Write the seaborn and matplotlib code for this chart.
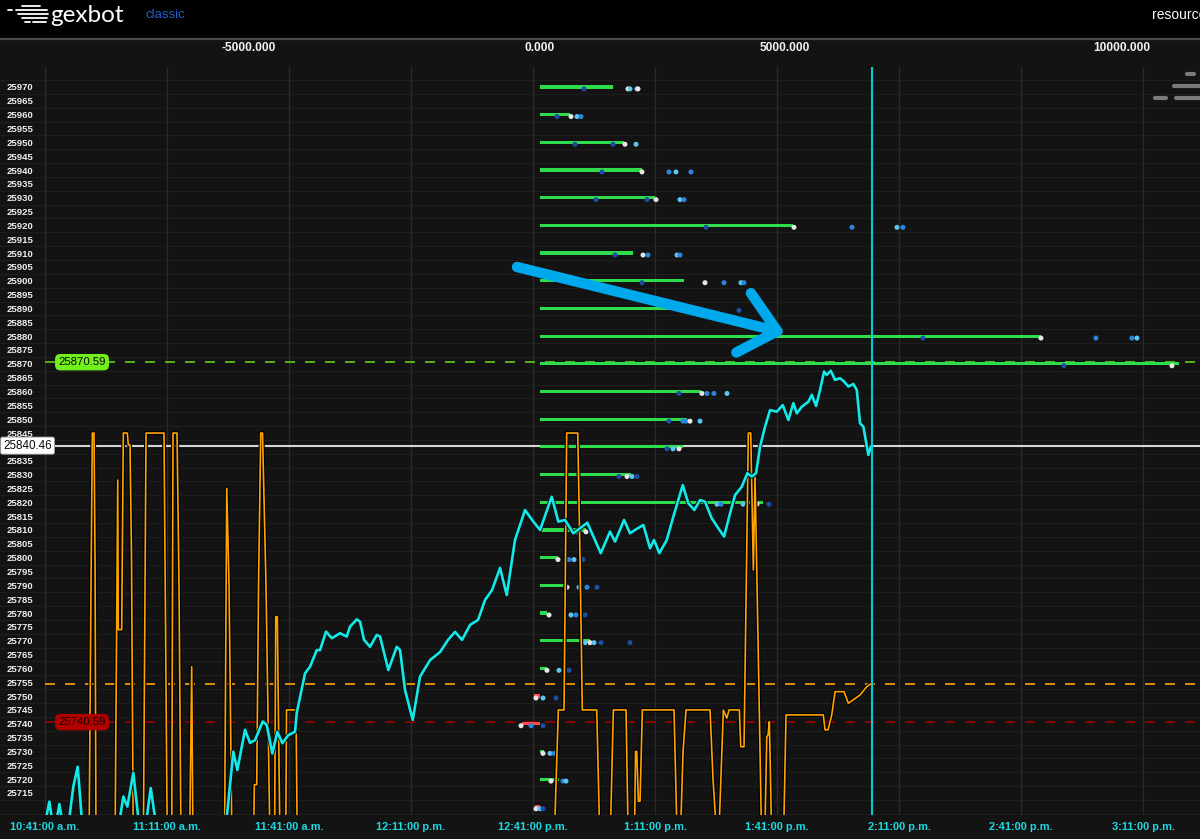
import matplotlib
matplotlib.use('Agg')
import matplotlib.pyplot as plt
import matplotlib.patheffects as pe
from matplotlib.ticker import FixedLocator, MultipleLocator
from matplotlib.lines import Line2D
from matplotlib.patches import Rectangle
import seaborn as sns

# ---------------- data ----------------
strikes = [25970, 25960, 25950, 25940, 25930, 25920, 25910, 25900, 25890, 25880,
           25870, 25860, 25850, 25840, 25830, 25820, 25810, 25800, 25790, 25780,
           25770, 25760, 25750, 25740, 25730, 25720, 25710]
gex = [1254, 515, 1443, 1753, 1976, 4347, 1598, 2474, 2732, 8608,
       10979, 2766, 2526, 2457, 1564, 3832, 790, 309, 447, 120,
       859, 120, -100, -309, 69, 326, -86]

dot_strike = ([25970] * 5 + [25960] * 4 + [25950] * 4 + [25940] * 5 + [25930] * 5 +
              [25920] * 5 + [25910] * 5 + [25900] * 5 + [25890] * 2 + [25880] * 5 +
              [25870] * 2 + [25860] * 5 + [25850] * 5 + [25840] * 3 + [25830] * 4 +
              [25820] * 5 + [25810] * 4 + [25800] * 5 + [25790] * 4 + [25780] * 4 +
              [25770] * 5 + [25760] * 3 + [25750] * 3 + [25740] * 3 + [25730] * 3 +
              [25720] * 3 + [25710] * 3)
dot_value = [756, 1512, 1546, 1666, 1684,
             292, 533, 636, 704,
             601, 1254, 1460, 1649,
             1065, 1752, 2216, 2336, 2594,
             962, 1838, 1993, 2405, 2474,
             2852, 4364, 5360, 6133, 6236,
             1289, 1770, 1855, 2354, 2405,
             1752, 2835, 3161, 3453, 3505,
             2732, 3419,
             6580, 8607, 9552, 10170, 10256,
             9002, 10858,
             2388, 2783, 2869, 2989, 3213,
             2216, 2457, 2508, 2577, 2749,
             2182, 2285, 2388,
             1357, 1495, 1581, 1666,
             3041, 3110, 3488, 3728, 3934,
             636, 670, 790, 876,
             309, 464, 498, 584, 739,
             464, 670, 807, 979,
             155, 533, 618, 773,
             773, 859, 928, 1048, 1546,
             120, 326, 498,
             -69, 52, 275,
             -326, -155, 52,
             52, 172, 241,
             189, 395, 447,
             -69, 0, 52]
dot_kind = list("dwllw" "dwlm" "ddwl" "dwmlm" "ddwlm" "dwmlm" "dwmlm" "dwmlm" "wd" "dwmml"
                "dw" "dwmml" "dmmwl" "dlw" "dwld" "lmlwd" "lmwd" "wlmld" "wlmd" "wlmd"
                "lwldd" "wld" "wld" "wmd" "wlm" "wml" "wld")

# price (minutes after 10:41:00 a.m.)
price_min = [0.0, 1.06, 1.65, 2.95, 3.52, 4.10, 5.98, 6.96, 8.04, 9.02,
             13.5, 18.44, 19.25, 20.24, 21.71, 22.94, 25.01, 25.99, 27.05, 35.0,
             44.68, 46.30, 47.29, 49.18, 50.41, 51.64, 53.53, 54.52, 55.89, 57.12,
             58.35, 59.83, 61.48, 61.89, 63.93, 65.16, 66.81, 67.62, 69.10, 70.50,
             72.54, 74.19, 75.0, 76.65, 77.46, 78.44, 79.92, 81.57, 82.38, 84.42,
             86.48, 87.30, 88.52, 90.42, 92.21, 94.67, 97.13, 99.10, 100.82, 102.54,
             104.51, 106.48, 108.20, 109.92, 111.89, 113.53, 115.57, 118.03, 120.07, 121.72,
             124.60, 126.22, 127.87, 129.91, 133.35, 136.65, 138.93, 140.16, 142.38, 143.85,
             145.08, 147.12, 148.77, 149.75, 151.06, 152.88, 154.50, 156.81, 158.19, 159.66,
             161.06, 162.29, 163.94, 165.57, 166.97, 168.44, 169.67, 171.32, 172.70, 173.78,
             174.84, 175.82, 177.05, 178.28, 179.93, 181.40, 182.78, 184.01, 184.85, 186.08,
             187.70, 188.54, 189.59, 190.58, 191.56, 192.22, 193.21, 194.26, 195.49, 196.47,
             197.53, 198.76, 199.60, 200.41, 201.22, 202.45, 203.11]
price_val = [25704, 25711.9, 25706, 25706, 25711.0, 25706, 25706, 25717.3, 25724.5, 25706,
             25692, 25706, 25713.7, 25710.1, 25722.3, 25706, 25706, 25716.8, 25706, 25695,
             25706, 25729.9, 25723.3, 25737.8, 25733.1, 25734.1, 25740.8, 25739.6, 25729.3, 25737.1,
             25733.0, 25735.9, 25737.1, 25743.9, 25758.2, 25760.6, 25766.6, 25766.6, 25773.3, 25770.9,
             25772.7, 25771.5, 25775.1, 25777.7, 25776.9, 25770.3, 25767.8, 25772.1, 25771.5, 25759.4,
             25767.8, 25766.6, 25752.2, 25741.4, 25757.0, 25763.0, 25765.9, 25770.3, 25773.2, 25770.3,
             25775.7, 25777.5, 25784.7, 25788.3, 25796.3, 25786.5, 25806.4, 25817.2, 25813.0, 25810.0,
             25822.0, 25813.0, 25813.6, 25808.8, 25812.6, 25801.6, 25809.4, 25805.8, 25813.6, 25808.8,
             25810.0, 25811.8, 25803.4, 25806.4, 25801.6, 25806.4, 25814.8, 25826.2, 25819.6, 25817.2,
             25820.8, 25820.2, 25814.2, 25810.6, 25807.6, 25816.0, 25822.6, 25825.6, 25830.5, 25829.3,
             25830.5, 25840.1, 25847.3, 25853.3, 25852.7, 25855.1, 25849.7, 25855.8, 25852.1, 25854.5,
             25856.3, 25858.8, 25854.8, 25860.6, 25867.2, 25866.0, 25867.5, 25864.2, 25864.8, 25863.6,
             25861.8, 25862.7, 25860.6, 25848.5, 25847.3, 25837.1, 25840.3]

flow_min = [0, 10.82, 11.31, 11.63, 12.05, 12.30, 12.54, 17.21, 17.88, 18.02,
            18.86, 19.25, 20.24, 20.48, 20.90, 21.27, 21.71, 24.17, 24.84, 29.26,
            30.07, 31.15, 31.47, 32.46, 32.95, 33.44, 35.53, 36.07, 36.39, 44.14,
            44.68, 45.25, 45.98, 51.27, 51.47, 52.06, 52.50, 53.04, 53.48, 54.34,
            55.33, 56.44, 56.73, 57.12, 57.42, 57.79, 59.19, 59.38, 61.72, 62.04,
            125.16, 126.22, 127.62, 128.28, 130.99, 131.55, 132.12, 135.66, 136.47, 138.93,
            139.75, 142.87, 143.43, 144.91, 145.21, 145.50, 145.90, 146.31, 146.88, 154.67,
            155.48, 156.15, 156.89, 157.62, 163.52, 164.26, 165.32, 165.57, 166.80, 167.64,
            168.20, 170.73, 171.07, 171.88, 172.94, 173.53, 174.17, 174.59, 174.96, 176.24,
            176.93, 177.47, 177.79, 178.11, 178.40, 178.70, 181.55, 182.21, 191.38, 191.80,
            192.54, 193.45, 194.26, 196.47, 197.53, 200.41, 202.06, 203.28]
flow_val = [25695, 25695, 25790, 25845, 25845, 25800, 25695, 25695, 25828, 25774,
            25774, 25845, 25845, 25840.7, 25840.7, 25800, 25695, 25695, 25845, 25845,
            25695, 25695, 25845, 25845, 25790, 25695, 25695, 25760.6, 25695, 25695,
            25825, 25790, 25695, 25695, 25718, 25718, 25790, 25845, 25845, 25790,
            25695, 25695, 25778.7, 25778.7, 25740, 25695, 25695, 25745, 25745, 25695,
            25695, 25745, 25745, 25845, 25845, 25800, 25745, 25745, 25695, 25695,
            25745, 25745, 25695, 25695, 25730, 25730, 25712, 25712, 25745, 25745,
            25695, 25695, 25730, 25745, 25745, 25720, 25695, 25695, 25745, 25742,
            25745, 25745, 25731.7, 25731.7, 25845, 25845, 25795.6, 25829.3, 25800, 25695,
            25695, 25735.3, 25736, 25740.8, 25720, 25695, 25695, 25743.2, 25743.2, 25737.8,
            25737.8, 25743.2, 25751.6, 25751.6, 25747.4, 25750.4, 25753.4, 25754.6]

current_price = 25840.46
call_wall = 25870.59
put_wall = 25740.59
flow_level = 25754.5
now_min = 203.4

time_ticks = [0, 30, 60, 90, 120, 150, 180, 210, 240, 270]
time_labels = ["10:41:00 a.m.", "11:11:00 a.m.", "11:41:00 a.m.", "12:11:00 p.m.",
               "12:41:00 p.m.", "1:11:00 p.m.", "1:41:00 p.m.", "2:11:00 p.m.",
               "2:41:00 p.m.", "3:11:00 p.m."]
gex_tick_pos = [-5000, 0, 4210, 10000]
gex_tick_labels = ["-5000.000", "0.000", "5000.000", "10000.000"]
strike_ticks = list(range(25715, 25971, 5))

# ---------------- style ----------------
sns.set_theme(style='dark')
plt.rcParams['font.family'] = ['Liberation Sans', 'DejaVu Sans']

BG = '#131313'
W, H = 1200, 839


def fx(px):
    return px / W


def fy(px):
    return 1 - px / H


fig = plt.figure(figsize=(12, 8.39), dpi=100, facecolor=BG)
ax_b = fig.add_axes([0, fy(815), 1, (815 - 67) / H])
ax_b.set_facecolor(BG)
ax_t = ax_b.twiny()
ax_t.patch.set_visible(False)

for a in (ax_b, ax_t):
    for s in a.spines.values():
        s.set_visible(False)

# grids
ax_b.yaxis.set_minor_locator(MultipleLocator(5, offset=2.5))
ax_b.grid(False)
ax_b.grid(axis='y', which='minor', color='#1e1e1e', lw=0.8)
ax_t.grid(False)
ax_t.grid(axis='x', which='major', color='#2a2a2a', lw=1.0)
ax_t.set_axisbelow(True)

# reference lines
ax_t.hlines(call_wall, 0, 284, colors='#5fcc1c', linestyles=(0, (6, 6)), lw=1.2, zorder=2.5)
ax_t.hlines(put_wall, 0, 284, colors='#a30000', linestyles=(0, (6, 6)), lw=1.2, zorder=2.5)
ax_t.hlines(flow_level, 0, 284, colors='#ffa500', linestyles=(0, (6, 6)), lw=1.2, zorder=2.5)
ax_t.axhline(current_price, color='#d4d4d4', lw=1.5, zorder=4)

# bars (bar scale from ax_b, drawn in ax_t for layering)
bar_colors = ['#2fdc4c' if v > 0 else '#ff4848' for v in gex]
ax_t.barh(strikes, gex, height=1.15, color=bar_colors, edgecolor='none', linewidth=0,
          transform=ax_b.transData, zorder=4.5)

palette = {'w': '#e6e6e6', 'l': '#5cc6f2', 'm': '#2a86dc', 'd': '#1c4ea6'}
sns.scatterplot(x=dot_value, y=[s - 0.7 for s in dot_strike], hue=dot_kind, palette=palette,
                s=13, linewidth=0, legend=False, ax=ax_t, transform=ax_b.transData, zorder=4.6)

stroke = [pe.Stroke(linewidth=2.8, foreground='#000000'), pe.Normal()]
sns.lineplot(x=flow_min, y=flow_val, ax=ax_t, color='#ffa300', lw=1.2, sort=False,
             estimator=None, zorder=5, path_effects=stroke)
stroke2 = [pe.Stroke(linewidth=3.2, foreground='#061414'), pe.Normal()]
sns.lineplot(x=price_min, y=price_val, ax=ax_t, color='#16e8e8', lw=1.9, sort=False,
             estimator=None, zorder=6, path_effects=stroke2)
ax_t.axvline(now_min, color='#00cfd8', lw=1.5, zorder=7)

# level labels
ax_t.text(9.1, call_wall, f"{call_wall:.2f}", ha='center', va='center', fontsize=8.2,
          color='#0a0a0a', zorder=9,
          bbox=dict(boxstyle='round,pad=0.28,rounding_size=0.45', fc='#72f01c', ec='none'))
ax_t.text(9.1, put_wall, f"{put_wall:.2f}", ha='center', va='center', fontsize=8.2,
          color='#1c0000', zorder=9,
          bbox=dict(boxstyle='round,pad=0.28,rounding_size=0.45', fc='#b00000', ec='none'))
ax_t.text(-4.3, current_price, f"{current_price:.2f}", ha='center', va='center', fontsize=8.4,
          color='#0a0a0a', zorder=9,
          bbox=dict(boxstyle='round,pad=0.22,rounding_size=0.15', fc='#ffffff', ec='#9a9a9a', lw=0.6))

# axes limits
ax_t.set_xlim(-11.07, 284.0)
ax_b.set_xlim(-9278, 11340)
ax_b.set_ylim(25707.05, 25977.2)

# top (bar-value) ticks
ax_b.xaxis.tick_top()
ax_b.xaxis.set_major_locator(FixedLocator(gex_tick_pos))
ax_b.set_xticklabels(gex_tick_labels)
ax_b.tick_params(axis='x', which='both', top=True, bottom=False, labeltop=True, labelbottom=False,
                 length=0, pad=9.4, labelsize=8.6, labelcolor='#f2f2f2')
for t in ax_b.get_xticklabels():
    t.set_fontweight('bold')

# strike ticks (inside the plot)
ax_b.set_yticks(strike_ticks)
ax_b.set_yticklabels([str(s) for s in strike_ticks])
ax_b.tick_params(axis='y', which='both', length=0, pad=-24, labelsize=6.8, labelcolor='#eeeeee')
for t in ax_b.get_yticklabels():
    t.set_fontweight('bold')

# bottom time ticks
ax_t.xaxis.tick_bottom()
ax_t.xaxis.set_label_position('bottom')
ax_t.set_xticks(time_ticks)
ax_t.set_xticklabels(time_labels)
ax_t.tick_params(axis='x', which='both', bottom=True, top=False, labelbottom=True, labeltop=False,
                 length=0, pad=5, labelsize=7.9, labelcolor='#1ed8e2')
for t in ax_t.get_xticklabels():
    t.set_fontweight('bold')
ax_t.set_xlabel('')
ax_t.set_ylabel('')
ax_b.set_xlabel('')
ax_b.set_ylabel('')

# hand-drawn arrow annotation
ax_t.annotate('', xy=(785, H - 333), xytext=(517, H - 267), xycoords='figure pixels',
              textcoords='figure pixels', zorder=20, annotation_clip=False,
              arrowprops=dict(arrowstyle='->,head_length=2.5,head_width=2.2', color='#00a9ec',
                              lw=7.5, shrinkA=0, shrinkB=0, capstyle='round', joinstyle='round',
                              mutation_scale=10))

# header bar
fig.add_artist(Rectangle((0, fy(37)), 1, 37 / H, transform=fig.transFigure, color='black', zorder=30))
fig.add_artist(Line2D([0, 1], [fy(38.5), fy(38.5)], transform=fig.transFigure, color='#4a4a4a',
                      lw=1.6, zorder=31))
logo_rows = [(6, 22, 40), (10, 8, 12), (10, 16, 47), (14, 18, 48), (18, 22, 47), (22, 25, 30),
             (22, 33, 46)]
for yy, x0, x1 in logo_rows:
    fig.add_artist(Line2D([fx(x0), fx(x1)], [fy(yy), fy(yy)], transform=fig.transFigure,
                          color='white', lw=1.3, zorder=32))
fig.text(fx(50), fy(16), 'gexbot', color='white', fontsize=17.5, family=['Lato', 'DejaVu Sans'],
         weight='normal', va='center', ha='left', zorder=32)
fig.text(fx(145), fy(15), 'classic', color='#1f5fd2', fontsize=9.5, va='center', ha='left', zorder=32)
fig.text(fx(1152), fy(15), 'resources', color='white', fontsize=10, va='center', ha='left', zorder=32)

# small grey control marks at top right of the plot
for yy, x0, x1 in [(74, 1187, 1194), (86, 1174, 1200), (98, 1155, 1166), (98, 1176, 1200)]:
    fig.add_artist(Line2D([fx(x0), fx(x1)], [fy(yy), fy(yy)], transform=fig.transFigure,
                          color='#7a7a7a', lw=3, solid_capstyle='round', zorder=25))

fig.savefig('out.png', dpi=100, facecolor=BG)
